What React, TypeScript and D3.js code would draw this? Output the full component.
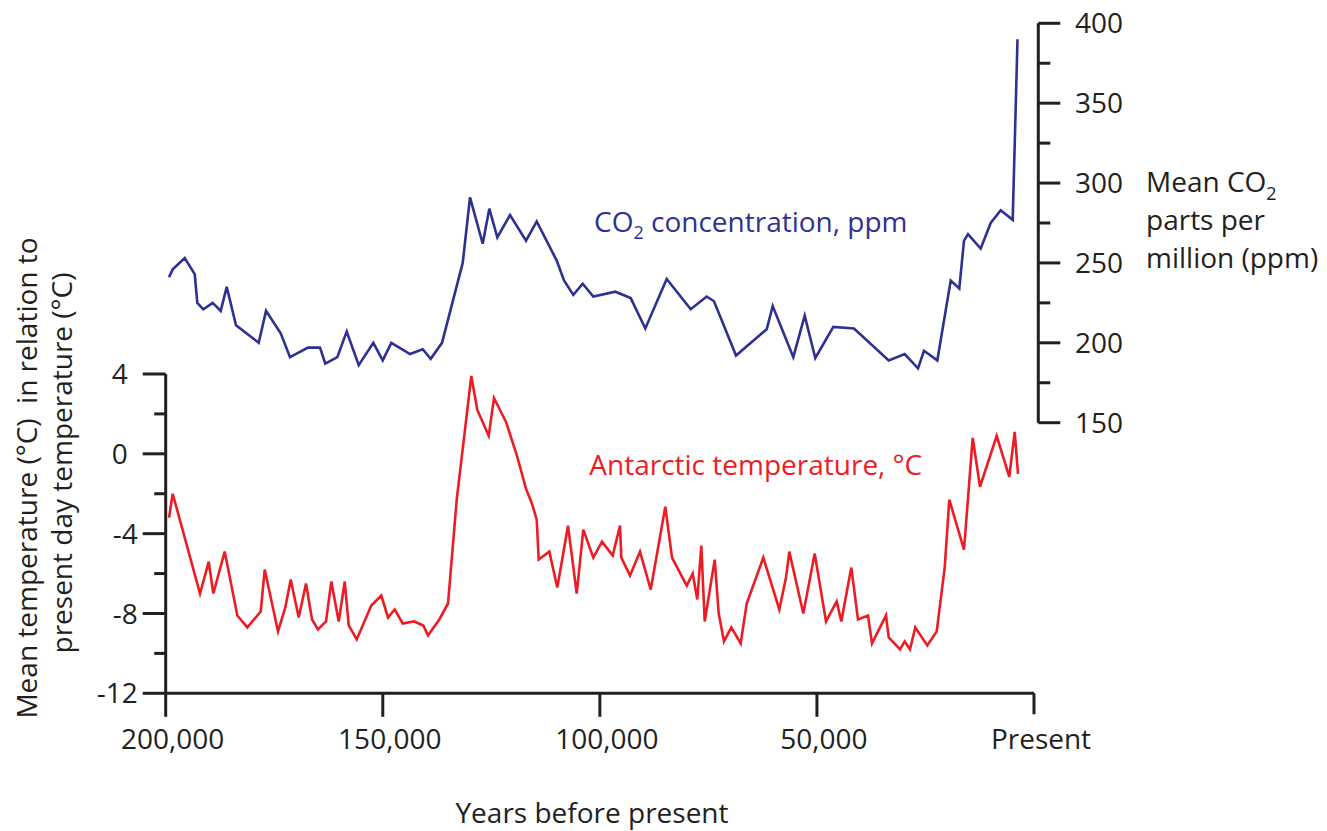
import React from "react";
import * as d3 from "d3";

// Years before present and values
const co2Years = [199235, 198384, 195619, 193316, 192717, 191335, 189170, 187327, 185945, 183803, 178575, 176893, 173507, 171366, 167220, 164456, 163235, 160471, 158306, 155542, 152179, 150014, 148033, 143726, 140801, 138958, 136355, 131588, 129906, 126981, 125461, 123618, 120693, 117008, 114543, 109936, 108255, 106113, 103948, 101506, 96439, 92892, 89529, 84600, 79072, 75387, 73706, 68638, 61567, 60185, 55440, 52815, 50373, 46227, 41459, 33467, 29782, 26718, 25336, 22273, 19186, 17206, 16123, 15202, 12277, 9973, 7670, 4906, 3800];
const co2Ppm = [241, 246, 253, 243, 225, 221, 225, 220, 235, 211, 200, 220, 206, 191, 197, 197, 187, 191, 207, 186, 200, 189, 200, 193, 196, 190, 200, 250, 291, 262, 284, 266, 280, 264, 276, 251.5, 239, 230, 237, 229, 232, 228, 209, 240, 221, 229, 226, 192, 208.5, 223, 191, 217, 190.5, 210, 209, 189, 193, 184, 195, 189, 239, 234, 264, 268, 259, 275, 283, 277, 390];

const tempYears = [199235, 198384, 192095, 190091, 189032, 186406, 183504, 181200, 178114, 177193, 174129, 172448, 171204, 169362, 167680, 166298, 164916, 163074, 161853, 160148, 158766, 157845, 156002, 152640, 150336, 148793, 147250, 145407, 142805, 140663, 139580, 136978, 134973, 132970, 131449, 129607, 128225, 125599, 124378, 121614, 119012, 117008, 115626, 114543, 114083, 111641, 109798, 107334, 105330, 103810, 101506, 99503, 97038, 95357, 95057, 93053, 90750, 88285, 84923, 83379, 79994, 78611, 77552, 76631, 75848, 73544, 72623, 71402, 69720, 67556, 66174, 62350, 58665, 57122, 56362, 53137, 50511, 47909, 45444, 44385, 42081, 40538, 38235, 37313, 34089, 33467, 30864, 29782, 28561, 27340, 24576, 22411, 20569, 19509, 16123, 14119, 12438, 8591, 5689, 4445, 3685];
const tempC = [-3.2, -2.0, -7.0, -5.4, -7.0, -4.9, -8.1, -8.7, -7.9, -5.8, -8.9, -7.7, -6.3, -8.2, -6.5, -8.3, -8.8, -8.4, -6.4, -8.4, -6.4, -8.6, -9.3, -7.6, -7.1, -8.2, -7.8, -8.5, -8.4, -8.6, -9.1, -8.3, -7.5, -2.3, 0.5, 3.9, 2.2, 0.9, 2.8, 1.6, -0.15, -1.75, -2.5, -3.3, -5.3, -4.9, -6.7, -3.6, -7.0, -3.8, -5.2, -4.4, -5.1, -3.6, -5.2, -6.1, -4.9, -6.8, -2.65, -5.2, -6.6, -6.0, -7.3, -4.6, -8.4, -5.3, -8.0, -9.4, -8.7, -9.5, -7.5, -5.2, -7.8, -6.2, -4.9, -8.0, -5.0, -8.4, -7.4, -8.4, -5.7, -8.3, -8.1, -9.5, -8.1, -9.2, -9.8, -9.4, -9.8, -8.7, -9.6, -8.9, -5.7, -2.3, -4.8, 0.8, -1.65, 0.9, -1.15, 1.1, -1.0];

const xTickValues = [200000, 150000, 100000, 50000, 0];
const xTickLabels = ["200,000", "150,000", "100,000", "50,000", "Present"];
const tempTicks = [4, 2, 0, -2, -4, -6, -8, -10, -12];
const tempLabeled = [4, 0, -4, -8, -12];
const co2Ticks = [400, 375, 350, 325, 300, 275, 250, 225, 200, 175, 150];
const co2Labeled = [400, 350, 300, 250, 200, 150];

const INK = "#231f20";
const BLUE = "#2e3192";
const RED = "#ed1c24";
const FONT = "'Open Sans', sans-serif";

export default function App() {
  const x = d3.scaleLinear().domain([200000, 0]).range([165.7, 1034]);
  const yT = d3.scaleLinear().domain([4, -12]).range([374, 693.3]);
  const yC = d3.scaleLinear().domain([400, 150]).range([23.3, 422.7]);

  const co2Line = d3
    .line<number>()
    .x((_, i) => x(co2Years[i]))
    .y((d) => yC(d));
  const tempLine = d3
    .line<number>()
    .x((_, i) => x(tempYears[i]))
    .y((d) => yT(d));

  const leftX = x(200000);
  const rightX = 1038.3;
  const baseY = yT(-12);

  return (
    <svg
      width={1327}
      height={831}
      style={{ position: "absolute", left: 0, top: 0, display: "block", background: "#fff" }}
      fontFamily={FONT}
      fontSize={28}
    >
      <rect width={1327} height={831} fill="#fff" />
      {/* data lines */}
      <path d={co2Line(co2Ppm) || ""} fill="none" stroke={BLUE} strokeWidth={2.6} strokeLinejoin="miter" />
      <path d={tempLine(tempC) || ""} fill="none" stroke={RED} strokeWidth={2.6} strokeLinejoin="miter" />

      {/* left axis */}
      <g stroke={INK} strokeWidth={3} fill="none">
        <line x1={leftX} x2={leftX} y1={yT(4)} y2={baseY} />
        {tempTicks.map((t) => {
          const major = tempLabeled.includes(t);
          return <line key={t} x1={leftX - (major ? 23 : 11.5)} x2={leftX} y1={yT(t)} y2={yT(t)} />;
        })}
        {/* bottom axis */}
        <line x1={leftX} x2={x(0)} y1={baseY} y2={baseY} />
        {xTickValues.map((v) => (
          <line key={v} x1={x(v)} x2={x(v)} y1={baseY} y2={baseY + (v === 0 ? 21 : 23.5)} />
        ))}
        {/* right axis */}
        <line x1={rightX} x2={rightX} y1={yC(400)} y2={yC(150)} />
        {co2Ticks.map((t) => {
          const major = co2Labeled.includes(t);
          return <line key={t} x1={rightX} x2={rightX + (major ? 22 : 12)} y1={yC(t)} y2={yC(t)} />;
        })}
      </g>

      <g fill={INK}>
        {tempLabeled.map((t) => (
          <text key={t} x={leftX - 28 - (t >= 0 ? 10 : 0)} y={yT(t)} dy="0.36em" textAnchor="end">
            {t === 0 ? "0" : t < 0 ? "-" + Math.abs(t) : String(t)}
          </text>
        ))}
        {xTickValues.map((v, i) => (
          <text key={v} x={x(v) + 7} y={749.3} textAnchor="middle">
            {xTickLabels[i]}
          </text>
        ))}
        {co2Labeled.map((t) => (
          <text key={t} x={1075} y={yC(t)} dy="0.36em" textAnchor="start">
            {t}
          </text>
        ))}
        <text x={592} y={823} textAnchor="middle">Years before present</text>
        <text transform="translate(37,478) rotate(-90)" textAnchor="middle" style={{ whiteSpace: "pre" }}>
          {"Mean temperature (°C)  in relation to"}
        </text>
        <text transform="translate(72,463) rotate(-90)" textAnchor="middle">
          present day temperature (°C)
        </text>
        <text x={1146} y={192}>
          Mean CO<tspan fontSize={18} dy={8}>2</tspan>
        </text>
        <text x={1146} y={230}>parts per</text>
        <text x={1146} y={268}>million (ppm)</text>
      </g>

      <text x={594} y={232} fill={BLUE}>
        CO<tspan fontSize={18} dy={7}>2</tspan>
        <tspan dy={-7}> concentration, ppm</tspan>
      </text>
      <text x={589.3} y={475} fill={RED}>
        Antarctic temperature, °C
      </text>
    </svg>
  );
}
